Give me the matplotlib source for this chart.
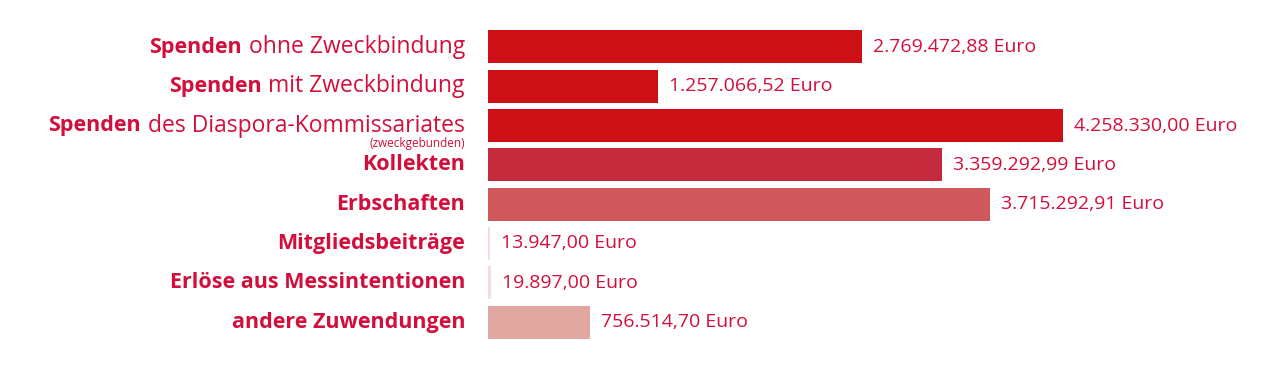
import matplotlib
matplotlib.use('Agg')
import matplotlib.pyplot as plt

# data
bold_parts = ['Spenden', 'Spenden', 'Spenden', 'Kollekten', 'Erbschaften',
              'Mitgliedsbeiträge', 'Erlöse aus Messintentionen', 'andere Zuwendungen']
rest_parts = ['ohne Zweckbindung', 'mit Zweckbindung', 'des Diaspora-Kommissariates',
              '', '', '', '', '']
sub_notes = ['', '', '(zweckgebunden)', '', '', '', '', '']
values = [2769472.88, 1257066.52, 4258330.00, 3359292.99, 3715292.91,
          13947.00, 19897.00, 756514.70]
value_labels = ['2.769.472,88 Euro', '1.257.066,52 Euro', '4.258.330,00 Euro',
                '3.359.292,99 Euro', '3.715.292,91 Euro', '13.947,00 Euro',
                '19.897,00 Euro', '756.514,70 Euro']
bar_colors = ['#CC1016', '#CC1016', '#CC1016', '#C4293C', '#D0595D',
              '#F3DEDB', '#F3DEDB', '#E1A7A1']

TEXT = '#D20F3C'
FONT = 'Open Sans'

fig = plt.figure(figsize=(12.8, 3.72), dpi=100)
ax = fig.add_axes([488 / 1280, 0, 1 - 488 / 1280, 1])
ax.set_xlim(0, 792 / 1.3505e-4)
ax.set_ylim(8.272, -1.196)
ax.axis('off')

ypos = list(range(len(values)))
ax.barh(ypos, values, height=0.84, color=bar_colors)

# value labels right of bars
for y, v, lab in zip(ypos, values, value_labels):
    ax.annotate(lab, xy=(v, y), xytext=(8, 0), textcoords='offset points',
                ha='left', va='center', color=TEXT, fontsize=14, family=FONT)

# category labels, bold first part + regular rest
lx = 465 / 1280
for y, b, r, s in zip(ypos, bold_parts, rest_parts, sub_notes):
    yf = 1 - (47 + 39.29 * y) / 372
    if r:
        t = fig.text(lx, yf, r, ha='right', va='center', color=TEXT,
                     fontsize=16.5, family=FONT)
        fig.canvas.draw()
        bb = t.get_window_extent()
        fig.text((bb.x0 - 7) / 1280, yf, b, ha='right', va='center', color=TEXT,
                 fontsize=15.5, family=FONT, fontweight='bold')
    else:
        fig.text(lx, yf, b, ha='right', va='center', color=TEXT,
                 fontsize=15.5, family=FONT, fontweight='bold')
    if s:
        fig.text(lx, yf - 18 / 372, s, ha='right', va='center', color=TEXT,
                 fontsize=8.5, family=FONT)

plt.savefig('out.png', dpi=100)
